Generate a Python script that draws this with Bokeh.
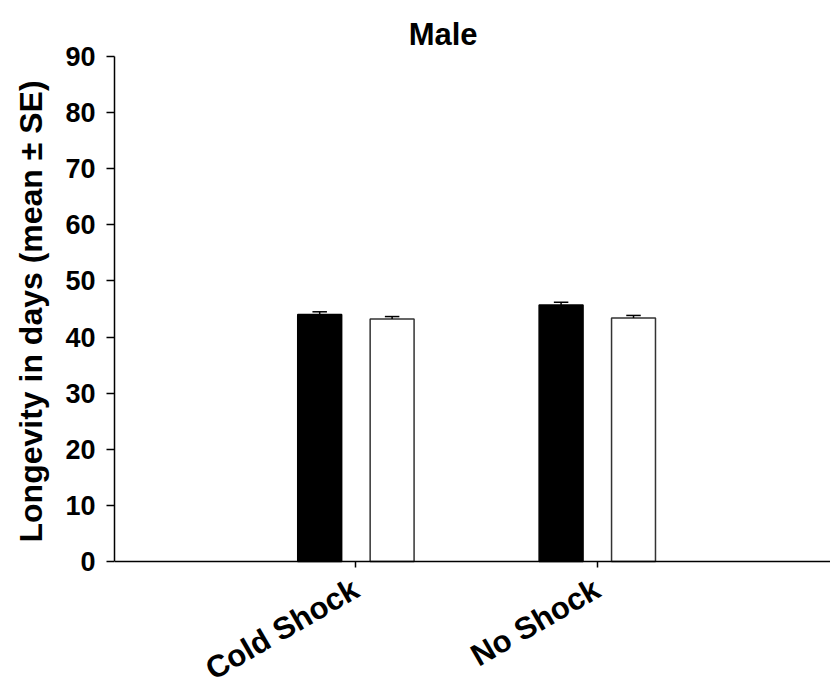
import math
from bokeh.plotting import figure
from bokeh.models import Range1d, FixedTicker, ColumnDataSource, Label, Title
from bokeh.embed import file_html
from bokeh.resources import INLINE

# Longevity of males by treatment (mean ± SE, days)
title_text = "Male"
y_title = "Longevity  in days (mean ± SE)"
categories = ["Cold Shock", "No Shock"]
series_a = [44.0, 45.7]      # filled bars
series_a_se = [0.5, 0.5]
series_b = [43.2, 43.4]      # open bars
series_b_se = [0.45, 0.45]
y_ticks = [0, 10, 20, 30, 40, 50, 60, 70, 80, 90]

FONT = "Liberation Sans"
pos = [i + 1 for i in range(len(categories))]
offset = 0.15
bar_w = 0.182
cap_half = 0.03
X_MAX = 2.966
# the plot area runs the full height; the value axis itself spans 0..90
Y_AXIS = (0, 90)
Y_VIEW = (-22.46, 99.98)

p = figure(width=830, height=687, output_backend="svg", toolbar_location=None,
           x_range=Range1d(0, X_MAX), y_range=Range1d(*Y_VIEW),
           min_border_left=113, min_border_right=0, min_border_top=0,
           min_border_bottom=0)
p.outline_line_color = None
p.grid.visible = False
p.background_fill_color = "white"
p.border_fill_color = "white"

src_a = ColumnDataSource(dict(x=[v - offset for v in pos], top=series_a,
                              up=[m + s for m, s in zip(series_a, series_a_se)]))
src_b = ColumnDataSource(dict(x=[v + offset for v in pos], top=series_b,
                              up=[m + s for m, s in zip(series_b, series_b_se)]))

for src, fill, line in ((src_a, "black", "black"), (src_b, "white", "#333333")):
    p.vbar(x="x", top="top", bottom=0, width=bar_w, source=src,
           fill_color=fill, line_color=line, line_width=1.5)
    p.segment(x0="x", y0="top", x1="x", y1="up", source=src,
              line_color="black", line_width=1.5)
    src.data["xl"] = [v - cap_half for v in src.data["x"]]
    src.data["xr"] = [v + cap_half for v in src.data["x"]]
    p.segment(x0="xl", y0="up", x1="xr", y1="up", source=src,
              line_color="black", line_width=1.5)

# axes
p.xaxis.fixed_location = 0
p.xaxis.ticker = FixedTicker(ticks=pos)
p.xaxis.major_label_overrides = {v: c for v, c in zip(pos, categories)}
p.xaxis.major_label_orientation = math.pi / 6
p.yaxis.ticker = FixedTicker(ticks=y_ticks)
p.yaxis.bounds = Y_AXIS

for ax in (p.xaxis, p.yaxis):
    ax.axis_line_color = "black"
    ax.axis_line_width = 1.5
    ax.major_tick_line_color = "black"
    ax.major_tick_line_width = 1.5
    ax.major_tick_out = 8
    ax.major_tick_in = 0
    ax.minor_tick_line_color = None
    ax.major_label_text_font = FONT
    ax.major_label_text_font_style = "bold"
    ax.major_label_text_color = "black"

p.xaxis.major_tick_out = 6
p.xaxis.major_label_text_font_size = "31px"
p.xaxis.major_label_standoff = 19

p.yaxis.major_label_text_font_size = "27px"
p.yaxis.major_label_standoff = 11

# vertical title of the value axis, set along the 0..90 span
p.add_layout(Title(text=y_title, align="left", offset=145, standoff=24,
                   vertical_align="top",
                   text_font=FONT, text_font_size="32px",
                   text_font_style="bold", text_color="black"), "left")

# chart heading above the value axis
p.add_layout(Label(x=X_MAX * 0.459, y=Y_AXIS[1], text=title_text,
                   text_align="center", text_baseline="alphabetic",
                   y_offset=22, text_font=FONT, text_font_size="31px",
                   text_font_style="bold", text_color="black"))

open("out.html", "w").write(file_html(p, INLINE))
